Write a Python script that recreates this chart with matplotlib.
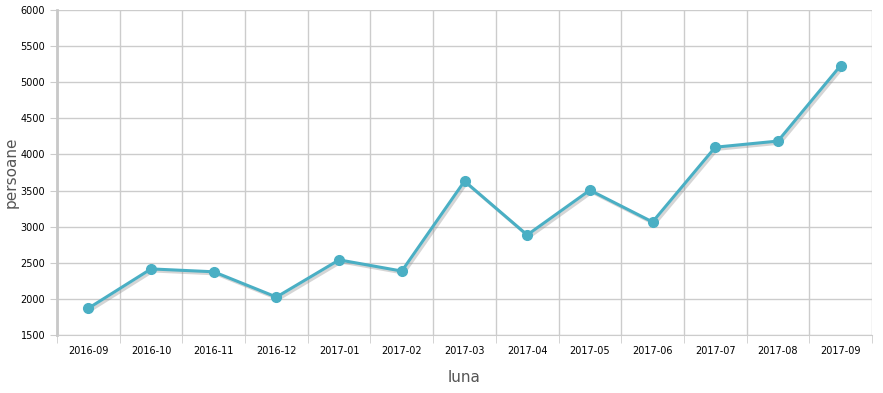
import numpy as np
import matplotlib.pyplot as plt
import matplotlib.patheffects as pe

luni = ['2016-09', '2016-10', '2016-11', '2016-12', '2017-01', '2017-02', '2017-03',
        '2017-04', '2017-05', '2017-06', '2017-07', '2017-08', '2017-09']
persoane = [1870, 2415, 2375, 2025, 2540, 2385, 3630, 2885, 3505, 3065, 4100, 4185, 5230]

fig = plt.figure(figsize=(8.83, 3.93), dpi=100)
ax = fig.add_axes([0.0646, 0.1476, 0.9229, 0.827])

x = np.arange(len(luni))
# linia cu umbra, apoi punctele separat
ax.plot(x, persoane, color='#4aafc4', lw=2.2, zorder=3,
        path_effects=[pe.SimpleLineShadow(offset=(1.5, -1.5), shadow_color='#888888', alpha=0.35),
                      pe.Normal()])
ax.plot(x, persoane, ls='none', marker='o', ms=7, color='#4aafc4', zorder=4)

ax.set_xlim(-0.5, len(luni) - 0.5)
ax.set_ylim(1500, 6000)
ax.set_yticks(np.arange(1500, 6001, 500))
ax.set_xticks(x)
ax.set_xticklabels(luni)
ax.set_xticks(np.arange(-0.5, len(luni), 1), minor=True)

ax.grid(which='minor', axis='x', color='#cccccc', lw=1)
ax.grid(which='major', axis='y', color='#cccccc', lw=1)
ax.tick_params(axis='x', which='major', length=0, labelsize=7, pad=8)
ax.tick_params(axis='x', which='minor', length=6, color='#cccccc')
ax.tick_params(axis='y', length=5, color='#cccccc', labelsize=7)

for s in ['top', 'right']:
    ax.spines[s].set_visible(False)
ax.spines['left'].set_color('#c8c8c8')
ax.spines['left'].set_linewidth(2)
ax.spines['bottom'].set_color('#cccccc')

ax.set_xlabel('luna', fontsize=11, color='#555555', labelpad=10)
ax.set_ylabel('persoane', fontsize=11, color='#555555', labelpad=1)

fig.savefig('out.png', dpi=100)
